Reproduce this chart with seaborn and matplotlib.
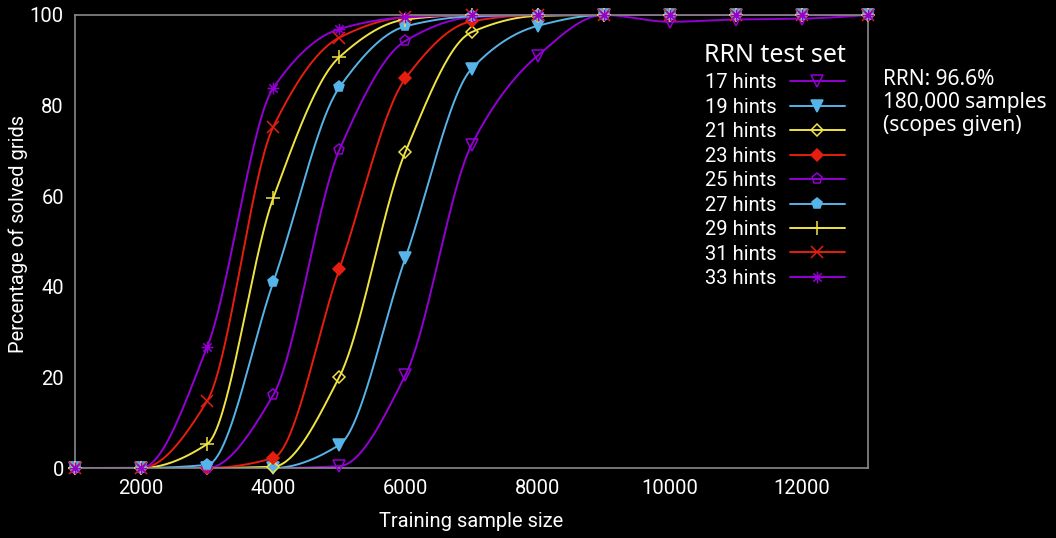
import numpy as np
import pandas as pd
import matplotlib
matplotlib.use("Agg")
import matplotlib.pyplot as plt
from matplotlib.path import Path
from matplotlib.lines import Line2D
import seaborn as sns

# ---------------- data ----------------
sample_sizes = [1000, 2000, 3000, 4000, 5000, 6000, 7000, 8000, 9000, 10000, 11000, 12000, 13000]
hints_17 = [0, 0, 0, 0, 0.4, 20.5, 71.3, 91.0, 100, 98.5, 99.0, 99.2, 100]
hints_19 = [0, 0, 0, 0, 5.1, 46.4, 88.1, 97.6, 100, 100, 100, 100, 100]
hints_21 = [0, 0, 0, 0.3, 20.1, 69.8, 96.2, 99.8, 100, 100, 100, 100, 100]
hints_23 = [0, 0, 0, 2.2, 43.9, 86.0, 98.6, 100, 100, 100, 100, 100, 100]
hints_25 = [0, 0, 0, 16.1, 70.2, 94.3, 99.5, 100, 100, 100, 100, 100, 100]
hints_27 = [0, 0, 0.7, 41.0, 84.0, 97.5, 99.7, 100, 100, 100, 100, 100, 100]
hints_29 = [0, 0, 5.3, 59.6, 90.7, 99.0, 100, 100, 100, 100, 100, 100, 100]
hints_31 = [0, 0, 14.8, 75.3, 95.0, 99.5, 100, 100, 100, 100, 100, 100, 100]
hints_33 = [0, 0, 26.7, 83.9, 96.9, 99.5, 100, 100, 100, 100, 100, 100, 100]

series_labels = ["17 hints", "19 hints", "21 hints", "23 hints", "25 hints",
                 "27 hints", "29 hints", "31 hints", "33 hints"]
series_values = [hints_17, hints_19, hints_21, hints_23, hints_25,
                 hints_27, hints_29, hints_31, hints_33]
x_ticks = [2000, 4000, 6000, 8000, 10000, 12000]
y_ticks = [0, 20, 40, 60, 80, 100]

# ---------------- styles ----------------
VIOLET, BLUE, YELLOW, RED = "#9400d3", "#56b4e9", "#f0e442", "#e51e10"
colors = [VIOLET, BLUE, YELLOW, RED, VIOLET, BLUE, YELLOW, RED, VIOLET]

# asterisk marker (+ and x combined)
d = 0.7071
asterisk = Path([(-1, 0), (1, 0), (0, -1), (0, 1), (-d, -d), (d, d), (-d, d), (d, -d)],
                [Path.MOVETO, Path.LINETO] * 4)
markers = [("v", False, 8), ("v", True, 8), ("D", False, 6.5), ("D", True, 6.5),
           ("p", False, 8), ("p", True, 8), ("+", True, 10), ("x", True, 8.5),
           (asterisk, True, 8.5)]


def monotone_spline(x, y, n=800):
    """Monotone (Fritsch-Carlson / PCHIP) cubic smoothing for drawing."""
    x = np.asarray(x, float)
    y = np.asarray(y, float)
    h = np.diff(x)
    delta = np.diff(y) / h
    m = np.zeros_like(y)
    for k in range(1, len(x) - 1):
        if delta[k - 1] * delta[k] > 0:
            w1 = 2 * h[k] + h[k - 1]
            w2 = h[k] + 2 * h[k - 1]
            m[k] = (w1 + w2) / (w1 / delta[k - 1] + w2 / delta[k])
    # end slopes
    def end(h0, h1, d0, d1):
        s = ((2 * h0 + h1) * d0 - h0 * d1) / (h0 + h1)
        if np.sign(s) != np.sign(d0):
            s = 0.0
        elif np.sign(d0) != np.sign(d1) and abs(s) > abs(3 * d0):
            s = 3 * d0
        return s
    m[0] = end(h[0], h[1], delta[0], delta[1])
    m[-1] = end(h[-1], h[-2], delta[-1], delta[-2])
    xs = np.linspace(x[0], x[-1], n)
    idx = np.clip(np.searchsorted(x, xs) - 1, 0, len(x) - 2)
    t = (xs - x[idx]) / h[idx]
    h00 = 2 * t ** 3 - 3 * t ** 2 + 1
    h10 = t ** 3 - 2 * t ** 2 + t
    h01 = -2 * t ** 3 + 3 * t ** 2
    h11 = t ** 3 - t ** 2
    ys = (h00 * y[idx] + h10 * h[idx] * m[idx] + h01 * y[idx + 1]
          + h11 * h[idx] * m[idx + 1])
    return xs, ys


sns.set_theme(style="dark")
plt.rcParams["font.family"] = ["Roboto", "DejaVu Sans"]
plt.rcParams["axes.facecolor"] = "black"
plt.rcParams["figure.facecolor"] = "black"

fig = plt.figure(figsize=(10.56, 5.38), dpi=100)
ax = fig.add_axes([75 / 1056, 1 - 468 / 538, (868 - 75) / 1056, (468 - 15) / 538])
ax.set_facecolor("black")

handles = []
for lab, vals, col, (mk, filled, ms) in zip(series_labels, series_values, colors, markers):
    xs, ys = monotone_spline(sample_sizes, vals)
    smooth = pd.DataFrame({"x": xs, "y": ys})
    sns.lineplot(data=smooth, x="x", y="y", color=col, linewidth=1.4, ax=ax,
                 legend=False, estimator=None, sort=False)
    mfc = col if filled else "none"
    ax.plot(sample_sizes, vals, linestyle="none", marker=mk, markersize=ms,
            markerfacecolor=mfc, markeredgecolor=col, markeredgewidth=1.1,
            clip_on=False, zorder=3)
    handles.append(Line2D([], [], color=col, linewidth=1.4, marker=mk, markersize=ms,
                          markerfacecolor=mfc, markeredgecolor=col, markeredgewidth=1.1,
                          label=lab))

ax.set_xlim(1000, 13000)
ax.set_ylim(0, 100)
ax.set_xticks(x_ticks)
ax.set_yticks(y_ticks)
ax.tick_params(axis="both", colors="white", labelsize=14.5, length=0, pad=8)
for lbl in ax.get_xticklabels() + ax.get_yticklabels():
    lbl.set_color("white")
ax.grid(False)
for sp in ax.spines.values():
    sp.set_visible(True)
    sp.set_color("#8a8a8a")
    sp.set_linewidth(1.2)

ax.set_xlabel("Training sample size", color="white", fontsize=14.5, labelpad=10)
ax.set_ylabel("Percentage of solved grids", color="white", fontsize=14.5)
ax.yaxis.set_label_coords(18 / 1056, 1 - 234 / 538, transform=fig.transFigure)
ax.yaxis.label.set_va("center")

leg = ax.legend(handles=handles, loc="upper right", bbox_to_anchor=(846 / 1056, 1 - 43 / 538),
                bbox_transform=fig.transFigure, frameon=False, markerfirst=False,
                fontsize=14.5, title="RRN test set", title_fontsize=18,
                handlelength=2.75, handletextpad=0.65, labelspacing=0.27,
                borderaxespad=0, borderpad=0)
leg.get_title().set_color("white")
leg.get_title().set_fontfamily(["Noto Sans", "DejaVu Sans"])
for t in leg.get_texts():
    t.set_color("white")

fig.text(883 / 1056, 1 - 69 / 538, "RRN: 96.6%\n180,000 samples\n(scopes given)",
         color="white", fontsize=15, family=["Noto Sans", "DejaVu Sans"],
         ha="left", va="top", linespacing=1.14)

fig.savefig("out.png", dpi=100, facecolor="black")
